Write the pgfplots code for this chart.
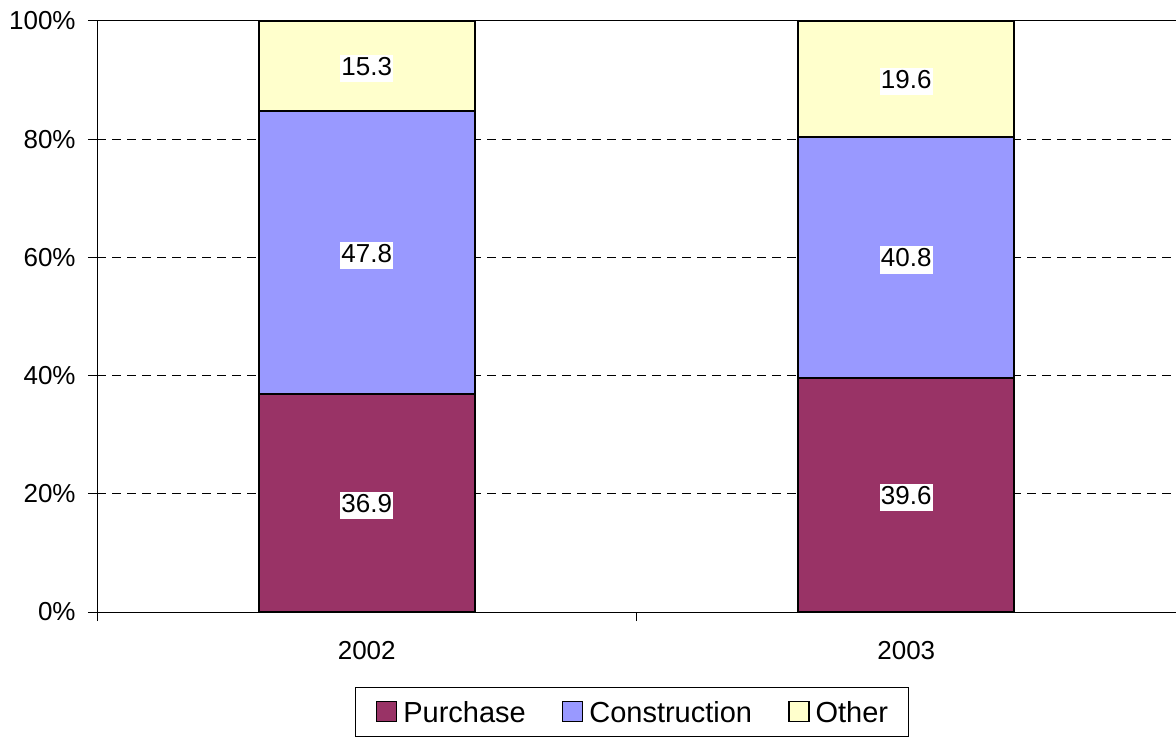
\documentclass[border=0pt]{standalone}
\usepackage{fontspec}
\setmainfont{Liberation Sans}
\usepackage{pgfplots}
\pgfplotsset{compat=1.18}
\definecolor{cPurch}{HTML}{993366}
\definecolor{cConst}{HTML}{9999FF}
\definecolor{cOther}{HTML}{FFFFCC}
\pgfplotsset{
  myleg/.style={legend image code/.code={\draw[##1,line width=0.75pt] (0pt,-5pt) rectangle (10pt,5pt);}},
}
\begin{document}
\begin{tikzpicture}
\useasboundingbox (-48.5pt,-63pt) rectangle (539.5pt,306pt);
\begin{axis}[
  at={(0pt,0pt)}, anchor=south west,
  scale only axis, width=539.5pt, height=295.5pt,
  ybar stacked, bar width=0.4,
  xmin=-0.5, xmax=1.5, ymin=0, ymax=100,
  axis x line*=bottom, axis y line*=left,
  axis line style={black, line width=0.5pt},
  every tick/.style={black, line width=0.5pt},
  tick align=outside, major tick length=4.5pt,
  xtick={-0.5,0.5,1.5}, xticklabels={,,},
  extra x ticks={0,1}, extra x tick labels={2002,2003},
  extra x tick style={grid=none, major tick length=0pt},
  ytick={0,20,40,60,80,100},
  yticklabel={\pgfmathprintnumber{\tick}\%},
  /pgf/number format/assume math mode=true,
  tick label style={font=\fontsize{13}{15}\selectfont},
  yticklabel style={inner sep=0pt, xshift=-6pt},
  xticklabel style={inner sep=0pt, yshift=-14.5pt},
  ymajorgrids, major grid style={black, line width=0.5pt, dash pattern=on 4.5pt off 3pt},
  legend style={at={(0.4958,-0.2107)}, anchor=south, draw=black, line width=0.5pt,
    inner xsep=10pt, inner ysep=6.8pt, font=\fontsize{14.5}{17}\selectfont,
    nodes={inner sep=0pt, text depth=0pt},
    /tikz/every even column/.append style={column sep=18pt},
    /tikz/every odd column/.append style={column sep=3pt}},
  legend columns=-1,
]
\addplot[fill=cPurch, draw=black, line width=1pt, myleg] coordinates {(0,36.9) (1,39.6)};
\addlegendentry{Purchase}
\addplot[fill=cConst, draw=black, line width=1pt, myleg] coordinates {(0,47.8) (1,40.8)};
\addlegendentry{Construction}
\addplot[fill=cOther, draw=black, line width=1pt, myleg] coordinates {(0,15.3) (1,19.6)};
\addlegendentry{Other}
\draw[black, line width=0.5pt] (rel axis cs:0,1) -- (rel axis cs:1,1);
\end{axis}
\begin{axis}[
  at={(0pt,0pt)}, anchor=south west,
  scale only axis, width=539.5pt, height=295.5pt,
  xmin=-0.5, xmax=1.5, ymin=0, ymax=100,
  hide axis,
]
\addplot[draw=none, mark=none, nodes near coords, point meta=explicit symbolic,
  nodes near coords align={center},
  every node near coord/.append style={fill=white, inner xsep=0.6pt, inner ysep=3.3pt,
    text height=0.72em, text depth=0pt, anchor=center, yshift=-1.2pt, font=\fontsize{13}{15}\selectfont}]
  coordinates {(0,18.45)[36.9] (0,60.75)[47.8] (0,92.35)[15.3]
               (1,19.8)[39.6] (1,60.0)[40.8] (1,90.2)[19.6]};
\end{axis}
\end{tikzpicture}
\end{document}
